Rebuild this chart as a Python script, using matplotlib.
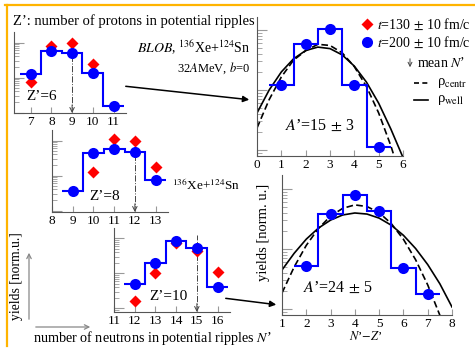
import matplotlib
matplotlib.use("Agg")
import matplotlib.pyplot as plt
import matplotlib.patches as mpatches
from matplotlib.lines import Line2D
from matplotlib.ticker import LogLocator, NullFormatter
import numpy as np

plt.rcParams['font.family'] = ['Liberation Serif', 'DejaVu Serif']
plt.rcParams['mathtext.fontset'] = 'stix'

# ---- data ----
# left column: N' distributions for fixed Z'
n6 = [7, 8, 9, 10, 11]
blue6 = [0.126, 0.571, 0.501, 0.135, 0.0153]
red6_n = [7, 8, 9, 10]
red6 = [0.0743, 0.794, 0.968, 0.243]

n8 = [9, 10, 11, 12, 13]
blue8 = [0.0361, 0.440, 0.571, 0.469, 0.0743]
red8_n = [10, 11, 12, 13]
red8 = [0.126, 1.10, 0.968, 0.175]

n10 = [12, 13, 14, 15, 16]
blue10 = [0.0501, 0.200, 0.849, 0.535, 0.0411]
red10_n = [12, 13, 14, 15, 16]
red10 = [0.0164, 0.103, 0.743, 0.440, 0.110]

mean_n = [9, 12, 15]
z_labels = ["Z’=6", "Z’=8", "Z’=10"]

# right column: N'-Z' distributions
nz15 = [1, 2, 3, 4, 5]
y15 = [0.121, 0.585, 1.04, 0.121, 0.0112]
nz24 = [2, 3, 4, 5, 6, 7]
y24 = [0.0521, 0.383, 0.794, 0.430, 0.0482, 0.0178]

# model curves
cx15 = [0, 0.5, 1, 1.5, 2, 2.5, 3, 3.5, 4, 4.5, 5, 5.5, 6]
well15 = [0.0414, 0.100, 0.200, 0.331, 0.455, 0.519, 0.490, 0.385, 0.250, 0.135, 0.0603, 0.0224, 0.0075]
cxc15 = [0, 0.5, 1, 1.5, 2, 2.5, 3, 3.5, 4, 4.5, 5, 5.5, 5.7]
centr15 = [0.0233, 0.0692, 0.165, 0.314, 0.452, 0.578, 0.553, 0.417, 0.245, 0.114, 0.0414, 0.0118, 0.0065]

cx24 = [1, 1.5, 2, 2.5, 3, 3.5, 4, 4.5, 5, 5.5, 6, 6.5, 7, 7.5, 8]
well24 = [0.0447, 0.0847, 0.146, 0.223, 0.303, 0.369, 0.398, 0.382, 0.327, 0.249, 0.169, 0.102, 0.055, 0.0263, 0.0108]
cxc24 = [1, 1.5, 2, 2.5, 3, 3.5, 4, 4.5, 5, 5.5, 6, 6.5, 7, 7.55]
centr24 = [0.0185, 0.0501, 0.115, 0.220, 0.353, 0.476, 0.543, 0.510, 0.403, 0.265, 0.145, 0.0664, 0.0252, 0.0070]

W, H = 475, 351
BLUE = '#0000ff'
RED = '#ff0000'


def fx(x):
    return x / W


def fy(y):
    return 1 - y / H


def box(x0, y0, x1, y1):
    return [fx(x0), fy(y1), (x1 - x0) / W, (y1 - y0) / H]


def style(ax, xticks):
    ax.set_yscale('log')
    ax.patch.set_alpha(0)
    for s in ['top', 'right']:
        ax.spines[s].set_visible(False)
    for s in ['left', 'bottom']:
        ax.spines[s].set_color('#555')
        ax.spines[s].set_linewidth(0.8)
    ax.set_xticks(xticks)
    ax.tick_params(axis='x', direction='in', length=4, color='#999',
                   labelsize=9.5, pad=2)
    ax.tick_params(axis='y', which='both', direction='in', color='#999',
                   labelleft=False)
    ax.tick_params(axis='y', which='major', length=7, width=0.8)
    ax.tick_params(axis='y', which='minor', length=3.5, width=0.6)
    ax.yaxis.set_minor_locator(LogLocator(subs=np.arange(2, 10)))
    ax.yaxis.set_minor_formatter(NullFormatter())


def steps(ax, x, y):
    edges = np.append(np.array(x) - 0.5, x[-1] + 0.5)
    ax.stairs(y, edges, baseline=None, color=BLUE, lw=1.5, zorder=3)


fig = plt.figure(figsize=(W / 100, H / 100), dpi=100)

# ---- left panels ----
left = [
    (box(14, 32, 126, 113), (6.2, 11.6), 81, [7, 8, 9, 10, 11], n6, blue6, red6_n, red6, 0.74),
    (box(52, 130, 168, 212), (8, 13.6), 82, [8, 9, 10, 11, 12, 13], n8, blue8, red8_n, red8, 0.67),
    (box(114, 228, 230, 312), (11, 16.6), 84, [11, 12, 13, 14, 15, 16], n10, blue10, red10_n, red10, 0.92),
]
for i, (rect, xl, hpx, ticks, n, b, rn, r, top) in enumerate(left):
    ax = fig.add_axes(rect)
    style(ax, ticks)
    ax.set_xlim(*xl)
    ax.set_ylim(10 ** (0.3 - hpx / 35), 10 ** 0.3)
    ax.axvline(mean_n[i], ymax=top, color='#444', ls='-.', lw=0.7, zorder=1)
    ax.annotate('', xy=(mean_n[i], 0), xycoords=('data', 'axes fraction'),
                xytext=(mean_n[i], 0.1), textcoords=('data', 'axes fraction'),
                arrowprops=dict(arrowstyle='->', lw=0.7, color='#444',
                                mutation_scale=8, shrinkA=0, shrinkB=0))
    steps(ax, n, b)
    ax.plot(rn, r, 'D', color=RED, ms=6, mec='none', zorder=4)
    ax.plot(n, b, 'o', color=BLUE, ms=8, mec='none', zorder=5)

# ---- right panels ----
ax = fig.add_axes(box(257, 17, 403, 156))
style(ax, [0, 1, 2, 3, 4, 5, 6])
ax.set_xlim(0, 6)
ax.set_ylim(10 ** -2.1, 10 ** 0.217)
ax.plot(cx15, well15, '-', color='k', lw=1.2, zorder=2)
ax.plot(cxc15, centr15, '--', color='k', lw=1.2, dashes=(4, 2), zorder=2)
steps(ax, nz15, y15)
ax.plot(nz15, y15, 'o', color=BLUE, ms=8, mec='none', zorder=5)

ax = fig.add_axes(box(282, 175, 452, 315))
style(ax, [1, 2, 3, 4, 5, 6, 7, 8])
ax.set_xlim(1, 8)
ax.set_ylim(10 ** -2.1, 10 ** 0.233)
ax.plot(cx24, well24, '-', color='k', lw=1.2, zorder=2)
ax.plot(cxc24, centr24, '--', color='k', lw=1.2, dashes=(4, 2), zorder=2)
steps(ax, nz24, y24)
ax.plot(nz24, y24, 'o', color=BLUE, ms=8, mec='none', zorder=5)

# ---- texts ----
fig.text(fx(13), fy(21), "Z’: number of protons in potential ripples", fontsize=10.5, va='center')
fig.text(fx(250), fy(48), r"$BLOB$, $^{136}$Xe+$^{124}$Sn", fontsize=10, ha='right', va='center')
fig.text(fx(250), fy(68), r"32$A$MeV, $b$=0", fontsize=9, ha='right', va='center')
for (x, y), t in zip([(42, 97), (105, 196), (168, 296)], z_labels):
    fig.text(fx(x), fy(y), t, fontsize=11, ha='center', va='center')
fig.text(fx(172), fy(185), r"$^{136}$Xe+$^{124}$Sn", fontsize=9.5, va='center')
fig.text(fx(320), fy(126), r"$A$’=15$\,\pm\,$3", fontsize=11.5, ha='center', va='center')
fig.text(fx(338), fy(288), r"$A$’=24$\,\pm\,$5", fontsize=11.5, ha='center', va='center')
fig.text(fx(366), fy(336), r"$N$’$-$$Z$’", fontsize=9, ha='center', va='center')
fig.text(fx(263), fy(232), "yields [norm. u.]", fontsize=10.5, rotation=90, ha='center', va='center')
fig.text(fx(17), fy(276), "yields [norm.u.]", fontsize=9.8, rotation=90, ha='center', va='center')
fig.text(fx(33), fy(338), "number of neutrons in potential ripples $N$’", fontsize=10.2, va='center')

# legend
fig.add_artist(Line2D([fx(367)], [fy(24)], marker='D', color=RED, ms=6, mec='none',
                      transform=fig.transFigure))
fig.add_artist(Line2D([fx(367)], [fy(42)], marker='o', color=BLUE, ms=8, mec='none',
                      transform=fig.transFigure))
fig.text(fx(377), fy(24), r"$t$=130$\,\pm\,$10 fm/c", fontsize=10, va='center')
fig.text(fx(377), fy(42), r"$t$=200$\,\pm\,$10 fm/c", fontsize=10, va='center')
fig.add_artist(mpatches.FancyArrowPatch((fx(410), fy(56)), (fx(410), fy(70)),
                                        transform=fig.transFigure, arrowstyle='->',
                                        mutation_scale=7, lw=0.7, color='#444'))
fig.text(fx(417), fy(63), "mean $N$’", fontsize=10, va='center')
fig.add_artist(Line2D([fx(414), fx(428)], [fy(83), fy(83)], ls='--', dashes=(3, 2),
                      color='k', lw=1.2, transform=fig.transFigure))
fig.add_artist(Line2D([fx(414), fx(428)], [fy(100), fy(100)], ls='-',
                      color='k', lw=1.2, transform=fig.transFigure))
fig.text(fx(437), fy(83), r"ρ$_{\rm centr}$", fontsize=10.5, va='center')
fig.text(fx(437), fy(100), r"ρ$_{\rm well}$", fontsize=10.5, va='center')

# arrows between panels
for p0, p1 in [((123, 86), (252, 100)), ((223, 298), (279, 305))]:
    fig.add_artist(mpatches.FancyArrowPatch((fx(p0[0]), fy(p0[1])), (fx(p1[0]), fy(p1[1])),
                                            transform=fig.transFigure, arrowstyle='-|>',
                                            mutation_scale=9, lw=1.1, color='k'))

# gray axis arrows bottom left
fig.add_artist(mpatches.FancyArrowPatch((fx(29), fy(322)), (fx(29), fy(250)),
                                        transform=fig.transFigure, arrowstyle='->',
                                        mutation_scale=8, lw=0.9, color='#888'))
fig.add_artist(mpatches.FancyArrowPatch((fx(33), fy(327)), (fx(93), fy(327)),
                                        transform=fig.transFigure, arrowstyle='->',
                                        mutation_scale=8, lw=0.9, color='#888'))

# orange frame (top and left)
fig.add_artist(Line2D([fx(5), fx(475)], [fy(5), fy(5)], color='#ffb400', lw=1.6,
                      transform=fig.transFigure))
fig.add_artist(Line2D([fx(7), fx(7)], [fy(5), fy(346)], color='#ffb400', lw=1.6,
                      transform=fig.transFigure))

fig.savefig('out.png', dpi=100)
